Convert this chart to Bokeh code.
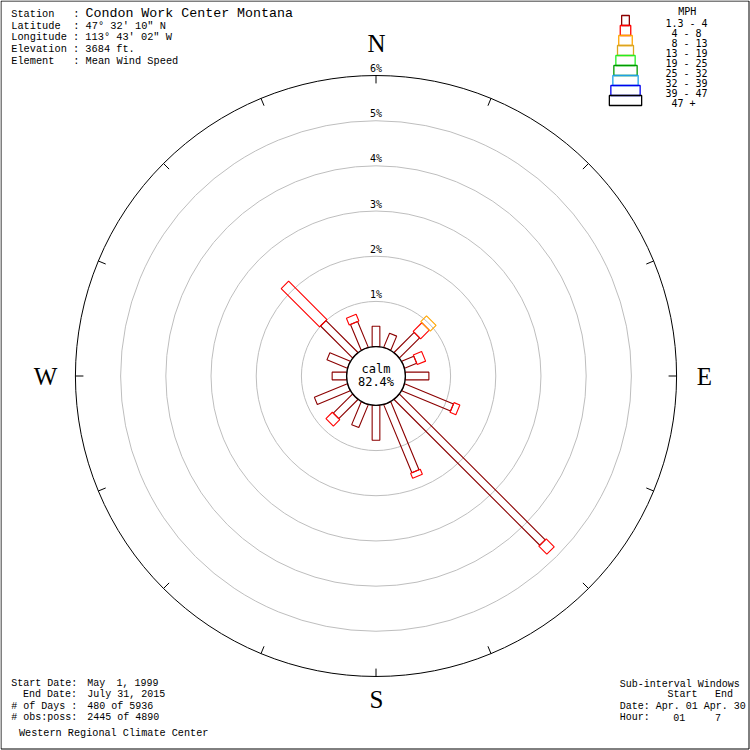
import math
import re
from bokeh.plotting import figure
from bokeh.models import Range1d
from bokeh.core.properties import value
from bokeh.embed import file_html
from bokeh.resources import INLINE

# ---------------- data ----------------
directions = ["N", "NNE", "NE", "ENE", "E", "ESE", "SE", "SSE",
              "S", "SSW", "SW", "WSW", "W", "WNW", "NW", "NNW"]
speed_classes = ["1.3 - 4", " 4 - 8", " 8 - 13", "13 - 19", "19 - 25",
                 "25 - 32", "32 - 39", "39 - 47", " 47 +"]
class_colors = ["#8B0000", "#FF0000", "#FFA500", "#DAA520", "#22EE22",
                "#009900", "#1EA0E6", "#0000EE", "#000000"]
# percent frequency per direction for each speed class
pct_1_4 = [0.45, 0.34, 0.63, 0.29, 0.52, 1.17, 4.56, 1.63,
           0.77, 0.55, 0.60, 0.79, 0.32, 0.49, 1.00, 0.62]
pct_4_8 = [0.00, 0.00, 0.27, 0.20, 0.00, 0.14, 0.25, 0.12,
           0.00, 0.00, 0.20, 0.00, 0.00, 0.00, 1.20, 0.16]
pct_8_13 = [0.00, 0.00, 0.18, 0.00, 0.00, 0.00, 0.00, 0.00,
            0.00, 0.00, 0.00, 0.00, 0.00, 0.00, 0.00, 0.00]
series = [pct_1_4, pct_4_8, pct_8_13]
ring_labels = ["1%", "2%", "3%", "4%", "5%", "6%"]
calm_text = ["calm", "82.4%"]

header_lines = ["Station   :", "Latitude  : 47\u00b0 32' 10\" N",
                "Longitude : 113\u00b0 43' 02\" W", "Elevation : 3684 ft.",
                "Element   : Mean Wind Speed"]
station_name = "Condon Work Center Montana"
footer_left = ["Start Date:  May  1, 1999", "  End Date:  July 31, 2015",
               "# of Days :  480 of 5936", "# obs:poss:  2445 of 4890"]
footer_credit = " Western Regional Climate Center"
footer_right = ["Sub-interval Windows", "        Start   End",
                "Date: Apr. 01 Apr. 30", "Hour:    01     7"]

# ---------------- geometry (layout) ----------------
W = 750
S = 45.2            # pixels per percent
CX, CY = 375.5, 375.5
C0 = 0.65           # calm circle radius in percent units
CW = 6.0            # monospace char advance in px
box_px = [7.7, 10.5, 13.5, 16, 19.3, 23.3, 25.3, 29.3, 32.3]


def P(px, py):
    return (px - CX) / S, (CY - py) / S


p = figure(width=W, height=W,
           x_range=Range1d(-CX / S, (W - CX) / S),
           y_range=Range1d(-(W - CY) / S, CY / S),
           output_backend="svg", toolbar_location=None,
           x_axis_location=None, y_axis_location=None,
           min_border=0)
p.min_border_left = p.min_border_right = p.min_border_top = p.min_border_bottom = 0
p.grid.visible = False
p.outline_line_color = None
p.background_fill_color = "white"
p.border_fill_color = "white"

# page border
bx0, by0 = P(0.5, 0.5)
bx1, by1 = P(748.5, 748.5)
p.quad(left=[bx0], right=[bx1], top=[by0], bottom=[by1], fill_color=None,
       line_color="black", line_width=1)


def mono_text(lines, x0, ys, font, size, cw=CW):
    xs, yy, tt = [], [], []
    for s, y in zip(lines, ys):
        for m in re.finditer(r"\S+(?: \S+)*", s):
            x, yv = P(x0 + m.start() * cw, y)
            xs.append(x); yy.append(yv); tt.append(m.group())
    p.text(x=xs, y=yy, text=tt, text_font=value(font), text_font_size=size,
           text_align="left", text_baseline="middle", text_color="black")


# rings
for k in range(1, 6):
    p.circle(x=[0], y=[0], radius=C0 + k, fill_color=None,
             line_color="#BEBEBE", line_width=1)
p.circle(x=[0], y=[0], radius=C0 + 6, fill_color=None,
         line_color="black", line_width=1)

# ticks on outer circle
tx0, ty0, tx1, ty1 = [], [], [], []
for i in range(16):
    th = math.radians(i * 22.5)
    r_out = C0 + 6
    r_in = r_out - 8 / S
    tx0.append(r_out * math.sin(th)); ty0.append(r_out * math.cos(th))
    tx1.append(r_in * math.sin(th)); ty1.append(r_in * math.cos(th))
p.segment(x0=tx0, y0=ty0, x1=tx1, y1=ty1, line_color="black", line_width=1)

# spokes
rx, ry, rw, rh, ra, rc = [], [], [], [], [], []
for i, d in enumerate(directions):
    th = math.radians(i * 22.5)
    cum = C0
    for k, s in enumerate(series):
        v = s[i]
        if v <= 0:
            continue
        rm = cum + v / 2
        rx.append(rm * math.sin(th)); ry.append(rm * math.cos(th))
        rw.append(v); rh.append(box_px[k] / S)
        ra.append(math.pi / 2 - th); rc.append(class_colors[k])
        cum += v
p.rect(x=rx, y=ry, width=rw, height=rh, angle=ra, fill_color=None,
       line_color=rc, line_width=1.1)

# calm circle
p.circle(x=[0], y=[0], radius=C0, fill_color="white", line_color="black",
         line_width=1.4)
cx1, cy1 = P(CX, 368)
cx2, cy2 = P(CX, 381.5)
p.text(x=[cx1, cx2], y=[cy1, cy2], text=calm_text,
       text_font=value("DejaVu Sans Mono"), text_font_size="12px",
       text_align="center", text_baseline="middle", text_color="black")

# ring labels
p.text(x=[0] * 6, y=[C0 + k + 1.5 / S for k in range(1, 7)], text=ring_labels,
       text_font=value("DejaVu Sans Mono"), text_font_size="10px",
       text_align="center", text_baseline="bottom", text_color="black")

# compass letters
comp_pos = [P(376, 43), P(704, 376), P(376, 699), P(45, 376)]
p.text(x=[c[0] for c in comp_pos], y=[c[1] for c in comp_pos],
       text=["N", "E", "S", "W"], text_font=value("Liberation Serif"),
       text_font_size="25px", text_align="center", text_baseline="middle",
       text_color="black")

# header
mono_text(header_lines, 10.7, [13.3, 25, 36.5, 48.5, 60.5],
          "Liberation Mono", "10.3px", cw=6.2)
sx, sy = P(85, 13)
p.text(x=[sx], y=[sy], text=[station_name], text_font=value("Liberation Mono"),
       text_font_size="13.3px", text_align="left", text_baseline="middle",
       text_color="black")

# footer left
mono_text(footer_left, 10.7, [683.3, 694.3, 705.7, 716.7],
          "Liberation Mono", "10px", cw=5.85)
mono_text([footer_credit], 12.3, [732.7], "Liberation Mono", "10.2px", cw=6.1)

# footer right
mono_text(footer_right, 619.3, [684, 694.3, 706, 717.3],
          "Liberation Mono", "10px", cw=5.95)

# legend
lx, ly, lw, lh = [], [], [], []
for k in range(len(speed_classes)):
    x, y = P(625, 20 + 10 * k)
    lx.append(x); ly.append(y); lw.append(box_px[k] / S); lh.append(10 / S)
p.rect(x=lx, y=ly, width=lw, height=lh, fill_color=None,
       line_color=class_colors, line_width=1.3)
mx, my = P(686.7, 11)
p.text(x=[mx], y=[my], text=["MPH"], text_font=value("DejaVu Sans Mono"),
       text_font_size="10px", text_align="center", text_baseline="middle",
       text_color="black")
mono_text(speed_classes, 665, [22.7 + 10 * k for k in range(len(speed_classes))],
          "DejaVu Sans Mono", "10px", cw=6.0)

open("out.html", "w").write(file_html(p, INLINE))
